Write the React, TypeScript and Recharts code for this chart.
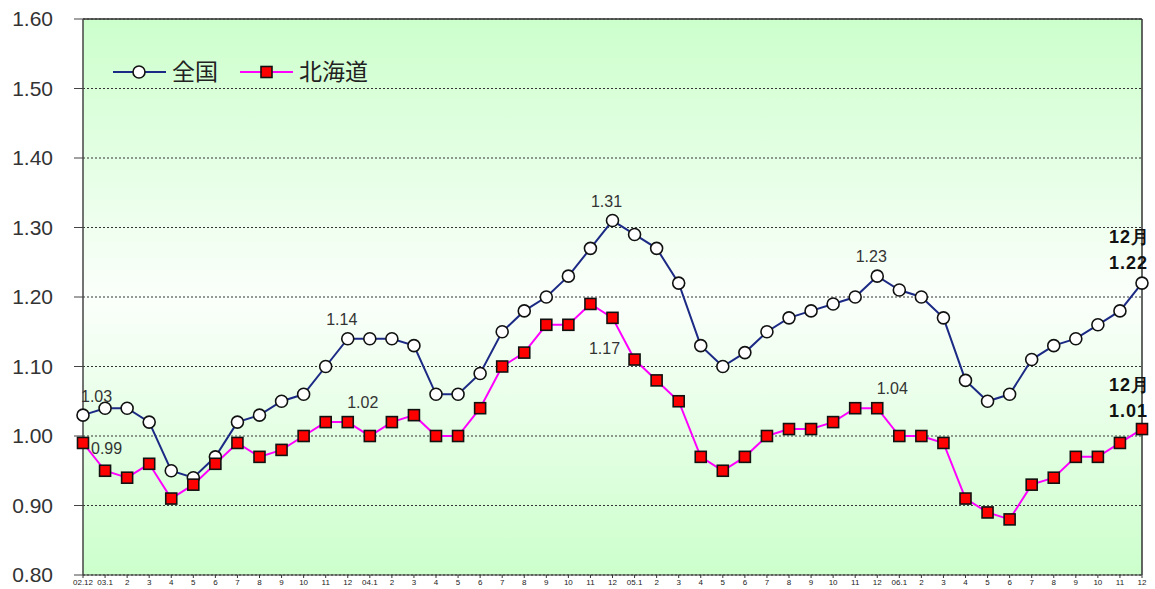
import React from "react";
import {
  LineChart,
  Line,
  XAxis,
  YAxis,
  CartesianGrid,
  ReferenceLine,
  LabelList,
  Legend,
} from "recharts";

const months = [
  "02.12", "03.1", "2", "3", "4", "5", "6", "7", "8", "9", "10", "11", "12",
  "04.1", "2", "3", "4", "5", "6", "7", "8", "9", "10", "11", "12",
  "05.1", "2", "3", "4", "5", "6", "7", "8", "9", "10", "11", "12",
  "06.1", "2", "3", "4", "5", "6", "7", "8", "9", "10", "11", "12",
];

const zenkoku = [
  1.03, 1.04, 1.04, 1.02, 0.95, 0.94, 0.97, 1.02, 1.03, 1.05, 1.06, 1.1, 1.14,
  1.14, 1.14, 1.13, 1.06, 1.06, 1.09, 1.15, 1.18, 1.2, 1.23, 1.27, 1.31,
  1.29, 1.27, 1.22, 1.13, 1.1, 1.12, 1.15, 1.17, 1.18, 1.19, 1.2, 1.23,
  1.21, 1.2, 1.17, 1.08, 1.05, 1.06, 1.11, 1.13, 1.14, 1.16, 1.18, 1.22,
];

const hokkaido = [
  0.99, 0.95, 0.94, 0.96, 0.91, 0.93, 0.96, 0.99, 0.97, 0.98, 1.0, 1.02, 1.02,
  1.0, 1.02, 1.03, 1.0, 1.0, 1.04, 1.1, 1.12, 1.16, 1.16, 1.19, 1.17,
  1.11, 1.08, 1.05, 0.97, 0.95, 0.97, 1.0, 1.01, 1.01, 1.02, 1.04, 1.04,
  1.0, 1.0, 0.99, 0.91, 0.89, 0.88, 0.93, 0.94, 0.97, 0.97, 0.99, 1.01,
];

const yTicks = [0.8, 0.9, 1.0, 1.1, 1.2, 1.3, 1.4, 1.5, 1.6];

// which points get a value label
const zenkokuNoted = [0, 12, 24, 36, 48];
const hokkaidoNoted = [0, 12, 24, 36, 48];

const data = months.map((m, i) => ({
  label: m,
  zenkoku: zenkoku[i],
  hokkaido: hokkaido[i],
}));

const NAVY = "#1c2a85";
const PINK = "#ff00ff";
const TXT = "#333";
const LAST = months.length - 1;

const CircleDot = (p: any) => (
  <circle cx={p.cx} cy={p.cy} r={6} fill="#fff" stroke="#111" strokeWidth={1.6} />
);

const SquareDot = (p: any) => (
  <rect x={p.cx - 5.5} y={p.cy - 5.5} width={11} height={11} fill="#ff0000" stroke="#111" strokeWidth={1.6} />
);

const noteText = (x: number, y: number, text: string, anchor = "middle") => (
  <text x={x} y={y} textAnchor={anchor} fontSize={16} fill={TXT}
    fontFamily="Liberation Sans, Arial, sans-serif">
    {text}
  </text>
);

// bold "12月 / value" note at the latest month
const lastNote = (x: number, y: number, v: string, gap: number) => (
  <g fontSize={18} fontWeight="bold" fill="#111" textAnchor="end" letterSpacing={1}
    fontFamily="Liberation Sans, Arial, sans-serif">
    <text x={x + 8} y={y - gap - 26}>12月</text>
    <text x={x + 6} y={y - gap}>{v}</text>
  </g>
);

const renderZenkoku = (p: any) => {
  const { x, y, index, value } = p;
  if (!zenkokuNoted.includes(index)) return null;
  const v = Number(value).toFixed(2);
  if (index === LAST) return lastNote(x, y, v, 14);
  if (index === 0) return noteText(x - 2, y - 13, v, "start");
  return noteText(x - 6, y - 14, v);
};

const renderHokkaido = (p: any) => {
  const { x, y, index, value } = p;
  if (!hokkaidoNoted.includes(index)) return null;
  const v = Number(value).toFixed(2);
  if (index === LAST) return lastNote(x, y, v, 12);
  if (index === 0) return noteText(x + 8, y + 11, v, "start");
  if (index === 24) return noteText(x - 8, y + 36, v);
  return noteText(x + 15, y - 14, v);
};

const LegendBox = () => (
  <svg width={300} height={36} style={{ overflow: "visible" }}>
    <line x1={3} y1={16} x2={56} y2={16} stroke={NAVY} strokeWidth={2} />
    <circle cx={29} cy={16} r={6} fill="#fff" stroke="#111" strokeWidth={1.6} />
    <text x={62} y={24} fontSize={23} fill="#222" fontFamily="Noto Sans CJK JP">全国</text>
    <line x1={130} y1={16} x2={183} y2={16} stroke={PINK} strokeWidth={2} />
    <rect x={151} y={10.5} width={11} height={11} fill="#ff0000" stroke="#111" strokeWidth={1.6} />
    <text x={189} y={24} fontSize={23} fill="#222" fontFamily="Noto Sans CJK JP">北海道</text>
  </svg>
);

export default function App() {
  return (
    <div style={{ position: "absolute", left: 0, top: 0, background: "#fff" }}>
      <LineChart
        width={1155}
        height={589}
        data={data}
        margin={{ top: 19, right: 12, bottom: 0, left: 0 }}
        style={{ fontFamily: "Liberation Sans, Arial, sans-serif" }}
      >
        <defs>
          <linearGradient id="bgGrad" x1="0" y1="0" x2="0" y2="1">
            <stop offset="0%" stopColor="#ccffcc" />
            <stop offset="50%" stopColor="#fbfffb" />
            <stop offset="100%" stopColor="#ccffcc" />
          </linearGradient>
        </defs>
        <CartesianGrid
          vertical={false}
          stroke="#333"
          strokeDasharray="2 2"
          fill="url(#bgGrad)"
          fillOpacity={1}
        />
        <XAxis
          dataKey="label"
          interval={0}
          height={14}
          tickSize={3}
          tickMargin={1}
          axisLine={{ stroke: "#333" }}
          tickLine={{ stroke: "#333" }}
          tick={{ fontSize: 8, fill: "#222" }}
        />
        <YAxis
          domain={[0.8, 1.6]}
          ticks={yTicks}
          width={83}
          tickSize={9}
          tickMargin={21}
          tickFormatter={(v: number) => v.toFixed(2)}
          axisLine={{ stroke: "#444", strokeWidth: 1.5 }}
          tickLine={{ stroke: "#444" }}
          tick={{ fontSize: 21, fill: TXT }}
        />
        <YAxis
          yAxisId="right"
          orientation="right"
          domain={[0.8, 1.6]}
          width={1}
          tick={false}
          tickLine={false}
          axisLine={{ stroke: "#333", strokeWidth: 1.5 }}
        />
        <ReferenceLine y={1.6} stroke="#333" strokeWidth={1.5} />
        <Legend
          layout="horizontal"
          verticalAlign="middle"
          align="center"
          content={() => <LegendBox />}
          wrapperStyle={{ position: "absolute", top: 56, left: 110, width: 300, height: 36 }}
        />
        <Line
          dataKey="zenkoku"
          name="全国"
          stroke={NAVY}
          strokeWidth={2}
          dot={<CircleDot />}
          isAnimationActive={false}
        >
          <LabelList dataKey="zenkoku" content={renderZenkoku} />
        </Line>
        <Line
          dataKey="hokkaido"
          name="北海道"
          stroke={PINK}
          strokeWidth={2}
          dot={<SquareDot />}
          isAnimationActive={false}
        >
          <LabelList dataKey="hokkaido" content={renderHokkaido} />
        </Line>
      </LineChart>
    </div>
  );
}
